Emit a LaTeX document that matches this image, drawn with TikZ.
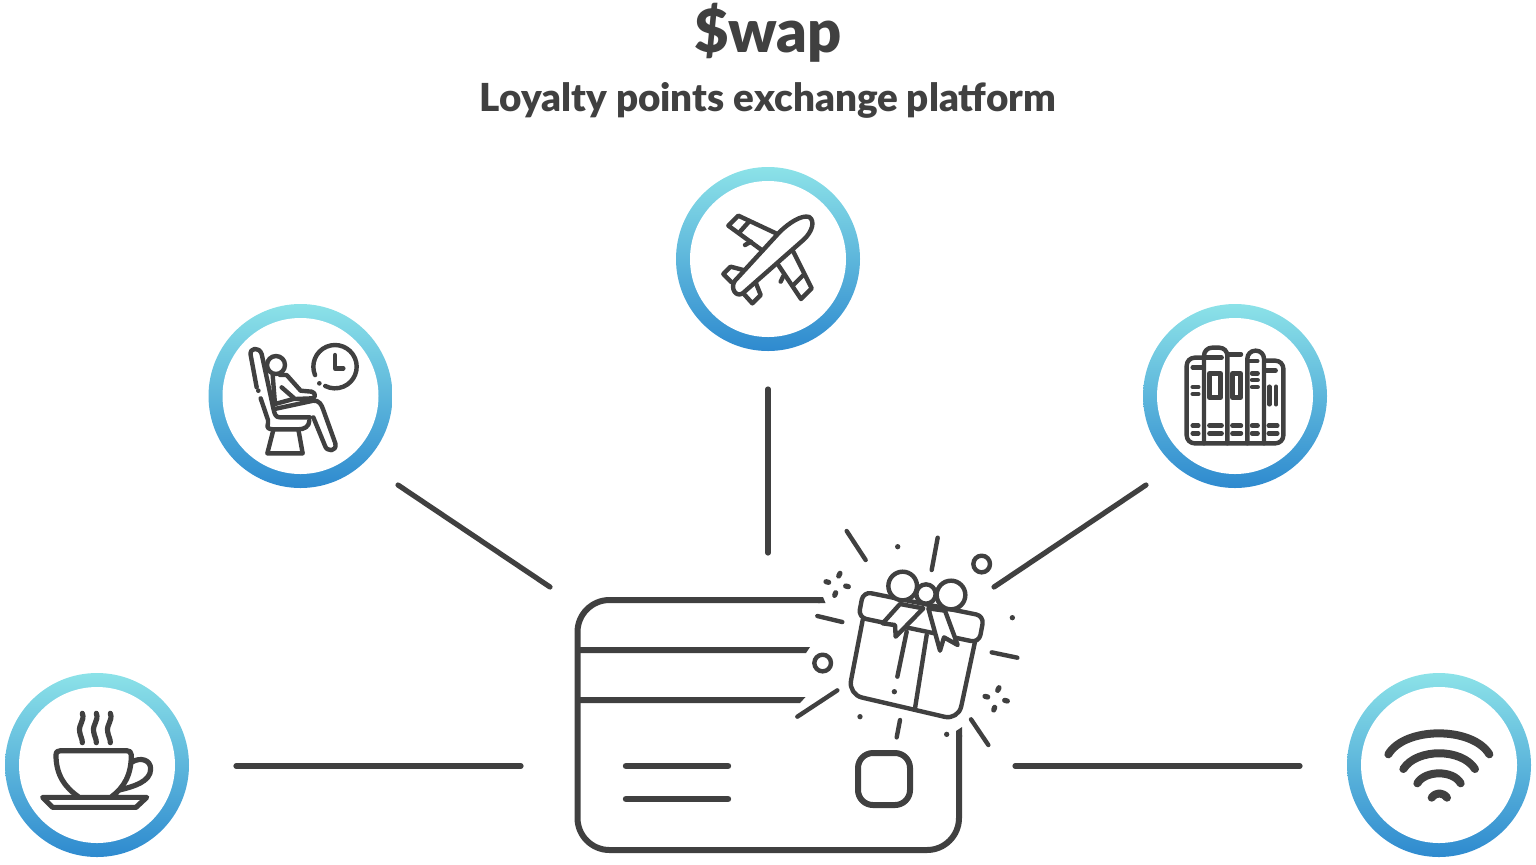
\documentclass[tikz,border=0pt]{standalone}
\usepackage{fontspec}
\setmainfont{Lato}[BoldFont={Lato Black}]
\definecolor{ink}{HTML}{404040}
\definecolor{ringtop}{HTML}{8CE2E8}
\definecolor{ringbot}{HTML}{2E8ACF}
\tikzset{
  ring/.style={circle,minimum size=92pt,inner sep=0pt,top color=ringtop,bottom color=ringbot,
    path picture={\fill[white] (path picture bounding box.center) circle (39pt);}},
  fine/.style={x=0.16667pt,y=-0.16667pt},
  icon/.style={draw=ink,line width=2.2pt,line cap=round,line join=round},
  thick icon/.style={icon,line width=2.6pt},
  signal/.style={icon,line width=4pt},
  link/.style={draw=ink,line width=2.6pt,line cap=round},
  cardline/.style={draw=ink,line width=3pt,line cap=butt},
  dotmark/.style={fill=ink},
  title/.style={text=ink,font=\fontsize{29.8}{34}\selectfont\bfseries,inner sep=0pt},
  subtitle/.style={text=ink,font=\fontsize{19.3}{22}\selectfont\bfseries,inner sep=0pt}
}
\begin{document}
\begin{tikzpicture}[x=0.5pt,y=-0.5pt]
\useasboundingbox (0,0) rectangle (1536,864);

\node[title] (head) at (768,33) {\$wap};
\node[subtitle] (sub) at (768,100) {Loyalty points exchange platform};

% benefit rings
\node[ring] (lounge) at (300.5,396) {};
\node[ring] (flight) at (768,259) {};
\node[ring] (books) at (1235,396) {};
\node[ring] (coffee) at (97,765) {};
\node[ring] (wifi) at (1439,765) {};

% connector ends on the card side and on the ring side
\coordinate (a1) at (398,485); \coordinate (a2) at (550,587);
\coordinate (b1) at (768,389); \coordinate (b2) at (768,553);
\coordinate (c1) at (1146,485); \coordinate (c2) at (994,587);
\coordinate (d1) at (236,766); \coordinate (d2) at (521,766);
\coordinate (e1) at (1300,766); \coordinate (e2) at (1015,766);
\draw[link] (a1) -- (a2);
\draw[link] (b1) -- (b2);
\draw[link] (c1) -- (c2);
\draw[link] (d1) -- (d2);
\draw[link] (e1) -- (e2);

% card outline, opened where the gift sits
\draw[cardline,rounded corners=16pt] (820,600) -- (577.5,600) -- (577.5,850) -- (959,850) -- (959,735);
\fill[ink] (818,597) -- (823,597) -- (825.5,603) -- (818,603) -- cycle;
\fill[ink] (956,737) -- (956,731) -- (962,727) -- (962,737) -- cycle;
\fill[ink] (578,647) -- (810,647) -- (806,653) -- (578,653) -- cycle;
\fill[ink] (578,697) -- (805.5,697) -- (800,703) -- (578,703) -- cycle;
\draw[link,line width=3.2pt] (626,766) -- (728,766);
\draw[link,line width=3.2pt] (626,799) -- (728,799);
\draw[draw=ink,line width=3pt,rounded corners=7.5pt] (858,753) rectangle (910,805);

% gift with sparkles
\begin{scope}[shift={(780,510)},fine]
  \draw[icon,rounded corners=4pt] (250,245) -- (612,318) -- (597,398) -- (235,322) -- cycle;
  \draw[icon,rounded corners=7pt] (248,330) -- (205,553) -- (535,630) -- (585,395);
  \draw[icon] (440,375) -- (405,595);
  \draw[icon] (380,365) -- (352,500);
  \draw[icon,fill=white] (368,228) circle[radius=43];
  \draw[icon,fill=white] (513,255) circle[radius=43];
  \draw[icon,fill=white] (360,282) -- (308,340) -- (345,345) -- (347,380) -- (430,295) -- cycle;
  \draw[icon,fill=white] (445,295) -- (480,422) -- (492,382) -- (533,405) -- (495,302) -- cycle;
  \draw[icon,fill=white] (438,252) circle[radius=29];
  \draw[icon] (200,63) -- (257,150);
  \draw[icon] (473,83) -- (455,180);
  \draw[icon] (112,318) -- (187,336);
  \draw[icon] (52,620) -- (172,541);
  \draw[icon] (635,427) -- (712,443);
  \draw[icon] (360,630) -- (350,682);
  \draw[icon] (573,628) -- (625,705);
  \draw[icon] (605,162) circle[radius=25];
  \draw[icon] (128,459) circle[radius=25];
  \foreach \px/\py in {353/110,697/323,240/620,500/673,343/545}
    \fill[dotmark] (\px,\py) circle[radius=8];
  \draw[icon,line width=2.6pt] (180,190) -- (176,198) (138,215) -- (146,217) (197,228) -- (205,230) (167,248) -- (164,256);
  \draw[icon,line width=2.6pt] (657,533) -- (653,541) (615,559) -- (623,561) (674,571) -- (682,573) (644,592) -- (641,600);
\end{scope}

% lounge seat and clock
\begin{scope}[shift={(230,330)},fine]
  \draw[icon] (92,205) -- (114,270) .. controls (118,285) and (100,296) .. (130,298) -- (205,298) .. controls (222,298) and (238,290) .. (238,272);
  \draw[icon] (80,172) -- (62,75) .. controls (58,52) and (88,50) .. (95,72) -- (130,235) .. controls (134,255) and (138,262) .. (150,262) -- (240,262);
  \fill[dotmark] (85,182) circle[radius=7];
  \draw[icon] (138,105) circle[radius=27];
  \draw[icon] (128,135) -- (135,222);
  \draw[icon] (135,222) -- (190,207);
  \draw[icon] (138,236) -- (250,212) .. controls (268,210) and (275,225) .. (280,240) -- (316,340) .. controls (322,365) and (290,368) .. (284,345) -- (250,262);
  \draw[icon] (150,135) -- (170,135) -- (212,182) -- (245,185) .. controls (258,188) and (258,205) .. (245,205) -- (195,207) -- (155,172);
  \draw[icon] (130,300) -- (112,370) -- (218,370) -- (205,298);
  \draw[icon] (255.2,135.4) arc[start angle=157,end angle=477,radius=65];
  \fill[dotmark] (268,160) circle[radius=7];
  \draw[icon] (315,75) -- (315,115) -- (340,115);
\end{scope}

% aeroplane
\begin{scope}[shift={(700,195)},fine]
  \draw[icon] (104,258) -- (238,112) .. controls (265,85) and (305,58) .. (328,66) .. controls (345,78) and (338,108) .. (312,133) -- (128,295) .. controls (108,308) and (90,280) .. (104,258) -- cycle;
  \draw[icon] (228,115) -- (115,62) -- (85,92) -- (185,165);
  \draw[icon] (145,82) -- (120,110);
  \draw[icon] (153,140) -- (135,150);
  \draw[icon] (280,170) -- (335,280) -- (303,312) -- (235,210);
  \draw[icon] (310,240) -- (280,270);
  \draw[icon] (250,243) -- (242,260);
  \draw[icon] (130,225) -- (92,215) -- (70,237) -- (95,262);
  \draw[icon] (168,265) -- (182,300) -- (157,325) -- (130,295);
\end{scope}

% bookshelf
\begin{scope}[shift={(1170,335)},fine]
  \draw[icon,rounded corners=4pt] (100,68) -- (50,68) -- (50,325) -- (340,325) -- (340,77) -- (285,77);
  \draw[icon,rounded corners=4pt] (102,325) -- (102,38) -- (172,38) -- (172,325);
  \draw[icon,rounded corners=4pt] (232,325) -- (232,47) -- (282,47) -- (282,325);
  \draw[icon] (175,58) -- (213,58);
  \draw[icon] (68,97) -- (100,97);
  \draw[icon] (105,68) -- (155,68);
  \draw[icon] (235,78) -- (262,78);
  \draw[icon] (285,107) -- (317,107);
  \draw[icon] (118,115) rectangle (152,188);
  \draw[icon] (187,115) rectangle (212,188);
  \foreach \yy in {272,295} {
    \draw[icon] (68,\yy) -- (85,\yy);
    \draw[icon] (118,\yy) -- (155,\yy);
    \draw[icon] (187,\yy) -- (213,\yy);
    \draw[icon] (246,\yy) -- (263,\yy);
    \draw[icon] (296,\yy) -- (322,\yy);
  }
  \draw[icon] (68,156) -- (85,156) (68,177) -- (85,177);
  \draw[icon] (246,115) -- (263,115) (246,135) -- (263,135) (246,156) -- (263,156);
  \draw[icon] (298,155) -- (298,208) (318,155) -- (318,208);
\end{scope}

% coffee cup and saucer
\begin{scope}[shift={(30,700)},fine]
  \foreach \sx in {157,199,241}
    \draw[thick icon] (\sx,40) .. controls (\sx+8,62) and (\sx-12,72) .. (\sx-8,95) .. controls (\sx-6,110) and (\sx,115) .. (\sx,128);
  \draw[thick icon] (145,290) .. controls (105,262) and (78,225) .. (78,165) .. controls (78,155) and (84,152) .. (92,152) -- (290,152) .. controls (298,152) and (304,156) .. (304,165) .. controls (304,225) and (282,262) .. (245,290);
  \draw[thick icon] (308,185) .. controls (330,172) and (362,178) .. (362,207) .. controls (362,245) and (310,260) .. (268,270);
  \draw[thick icon] (38,292) -- (350,292) -- (318,322) -- (68,322) -- cycle;
\end{scope}

% wifi signal
\begin{scope}[shift={(1370,715)},fine]
  \draw[signal] (55,118) .. controls (105,34) and (308,34) .. (358,118);
  \draw[signal] (100,162) .. controls (140,99) and (275,99) .. (315,162);
  \draw[signal] (142,205) .. controls (165,165) and (250,165) .. (272,205);
  \draw[signal] (185,248) .. controls (198,231) and (218,231) .. (231,248);
\end{scope}
\end{tikzpicture}
\end{document}
